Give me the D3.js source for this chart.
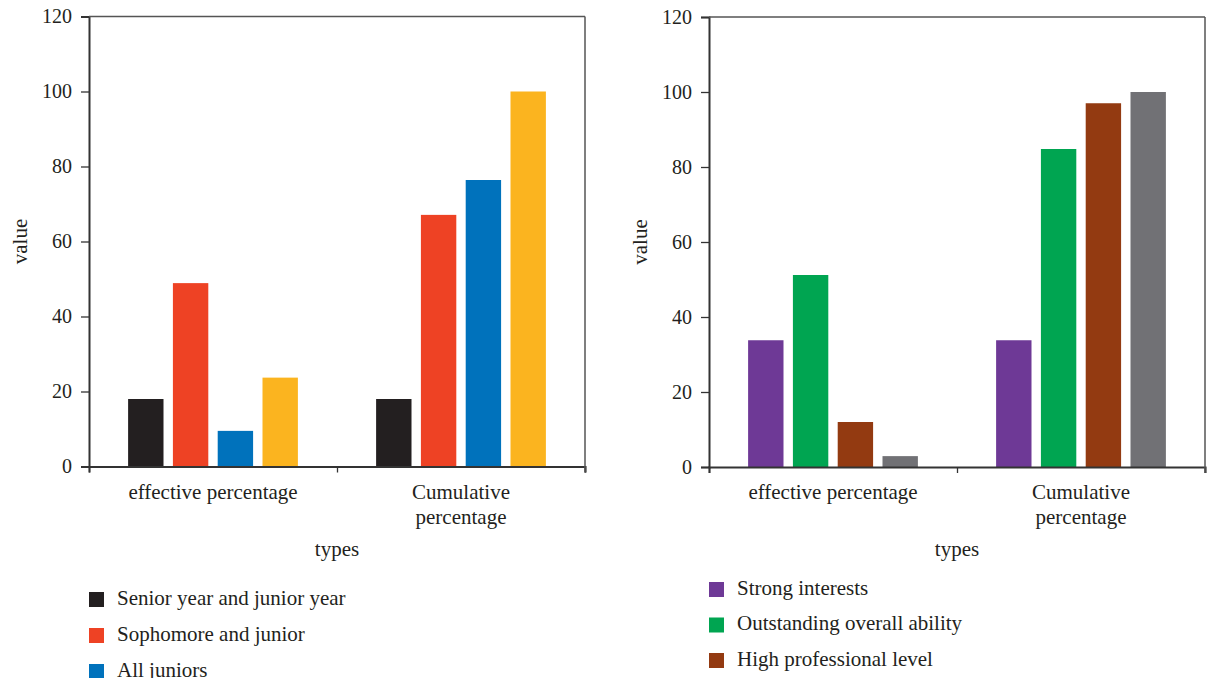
<!DOCTYPE html>
<html><head><meta charset="utf-8">
<script src="https://cdn.jsdelivr.net/npm/d3@7"></script>
<style>
html,body{margin:0;padding:0;background:#fff;}
svg text{font-family:"Liberation Serif","Times New Roman",serif;fill:#231f20;}
</style></head>
<body><svg id="c" width="1207" height="678"></svg>
<script>
const categories = ["effective percentage", "Cumulative percentage"];
const categoryLines = [["effective percentage"], ["Cumulative", "percentage"]];
const yTicks = [0, 20, 40, 60, 80, 100, 120];

const leftSeries = ["Senior year and junior year", "Sophomore and junior", "All juniors", ""];
const leftColors = ["#231f20", "#ee4224", "#0072bc", "#fbb41f"];
const leftValues = [
  [18, 48.9, 9.5, 23.7],   // effective percentage
  [18, 67.1, 76.4, 100]    // Cumulative percentage
];

const rightSeries = ["Strong interests", "Outstanding overall ability", "High professional level", ""];
const rightColors = ["#6e3996", "#00a551", "#933a11", "#717175"];
const rightValues = [
  [33.8, 51.2, 12, 2.9],
  [33.8, 84.8, 97, 100]
];

const svg = d3.select("#c");
const axisColor = "#333";
const fs = "21px";

function panel(opt) {
  const {left, right, top, bottom, series, colors, values, legendTop, legendStep} = opt;
  const g = svg.append("g");
  const y = d3.scaleLinear().domain([0, 120]).range([bottom, top]);
  const x0 = d3.scaleBand().domain(categories).range([left, right]).padding(0);
  const x1 = d3.scaleBand().domain(d3.range(series.length))
    .range([0, x0.bandwidth()]).paddingInner(0.21).paddingOuter(0.873);

  categories.forEach((c, ci) => {
    g.append("g").selectAll("rect").data(values[ci]).join("rect")
      .attr("x", (d, i) => x0(c) + x1(i))
      .attr("y", d => y(d))
      .attr("width", x1.bandwidth())
      .attr("height", d => y(0) - y(d))
      .attr("fill", (d, i) => colors[i]);
  });

  const ya = g.append("g").attr("transform", `translate(${left},0)`)
    .call(d3.axisLeft(y).tickValues(yTicks).tickSize(8).tickPadding(9));
  ya.select(".domain").attr("stroke", axisColor).attr("stroke-width", 2);
  ya.selectAll(".tick line").attr("stroke", axisColor).attr("stroke-width", 1.3);
  ya.selectAll(".tick text").style("font-size", "20px").style("font-family", '"Liberation Serif",serif').attr("fill", "#231f20");

  const xb = d3.scaleLinear().domain([0, categories.length]).range([left, right]);
  const xa = g.append("g").attr("transform", `translate(0,${bottom})`)
    .call(d3.axisBottom(xb).tickValues(d3.range(categories.length + 1)).tickFormat("").tickSize(6).tickSizeOuter(6));
  xa.select(".domain").attr("stroke", axisColor).attr("stroke-width", 2);
  xa.selectAll(".tick line").attr("stroke", axisColor).attr("stroke-width", 1.3);

  g.append("line").attr("x1", left).attr("x2", right).attr("y1", top).attr("y2", top)
    .attr("stroke", "#555").attr("stroke-width", 1.5);
  g.append("line").attr("x1", right).attr("x2", right).attr("y1", top).attr("y2", bottom + 6)
    .attr("stroke", "#555").attr("stroke-width", 1.5);

  categories.forEach((c, ci) => {
    const t = g.append("text").attr("text-anchor", "middle")
      .attr("x", x0(c) + x0.bandwidth() / 2).attr("y", bottom + 32)
      .style("font-size", fs);
    categoryLines[ci].forEach((ln, li) => {
      t.append("tspan").attr("x", x0(c) + x0.bandwidth() / 2).attr("dy", li === 0 ? 0 : 25).text(ln);
    });
  });

  g.append("text").attr("text-anchor", "middle").attr("x", (left + right) / 2).attr("y", bottom + 89)
    .style("font-size", fs).text("types");
  g.append("text").attr("text-anchor", "middle")
    .attr("transform", `translate(${left - 62},${(top + bottom) / 2}) rotate(-90)`)
    .style("font-size", fs).text("value");

  series.forEach((s, i) => {
    const cy = legendTop + i * legendStep;
    g.append("rect").attr("x", left).attr("y", cy - 7.5).attr("width", 15).attr("height", 15).attr("fill", colors[i]);
    g.append("text").attr("x", left + 28).attr("y", cy + 5).style("font-size", fs).text(s);
  });
}

panel({left: 89, right: 585, top: 16.5, bottom: 466.5,
  series: leftSeries, colors: leftColors, values: leftValues, legendTop: 599.5, legendStep: 36});
panel({left: 709, right: 1205, top: 17, bottom: 467,
  series: rightSeries, colors: rightColors, values: rightValues, legendTop: 589.5, legendStep: 35.5});
</script></body></html>
